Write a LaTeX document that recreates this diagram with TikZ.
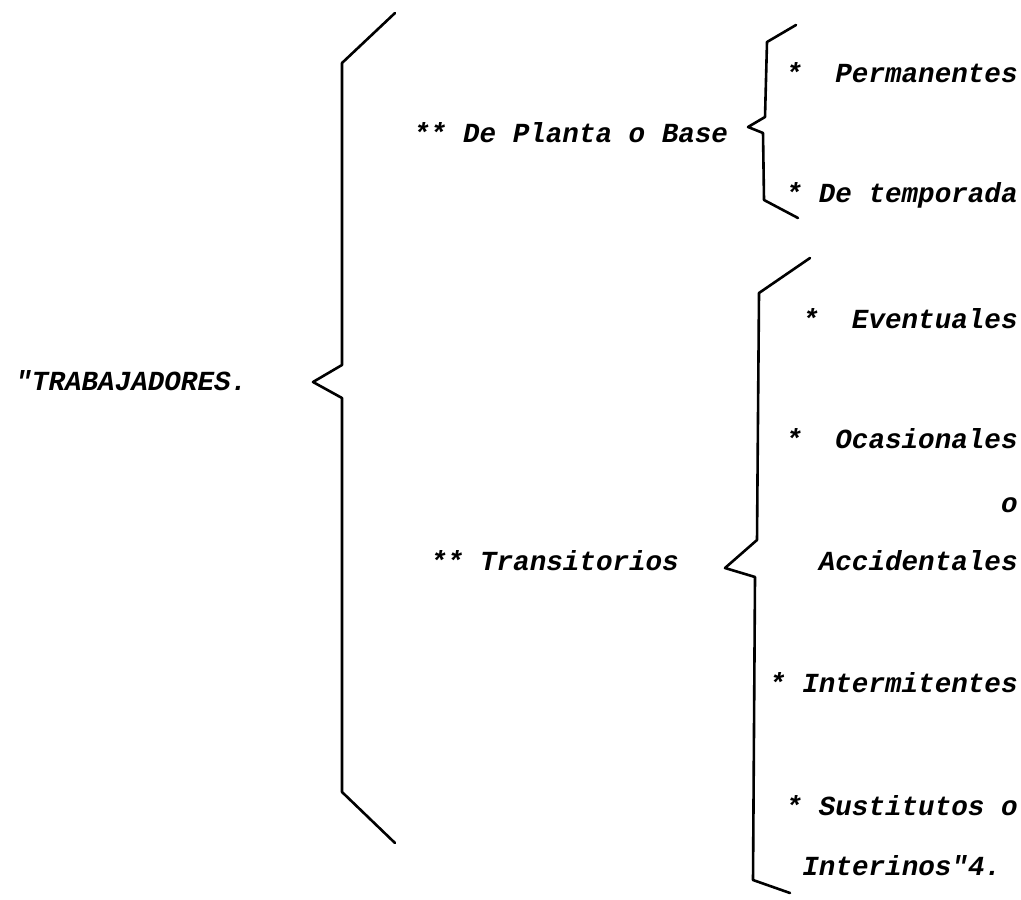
\documentclass[tikz,border=0pt]{standalone}
\usepackage{fontspec}
\setmonofont{Liberation Mono}
\usetikzlibrary{positioning}
\tikzset{
  item/.style  = {font=\fontsize{13.8}{16}\selectfont\ttfamily\bfseries\itshape,
                  inner sep=0pt, anchor=base east},
  head/.style  = {item, anchor=base west},
  brk/.style   = {draw=black, line width=1.3pt, line join=round, line cap=round},
}

\begin{document}
\begin{tikzpicture}[x=0.5pt, y=-0.5pt]
  \useasboundingbox (0,0) rectangle (1021,899);

  %% ---------------- the root ----------------
  \node[head] (root) at (15,390) {"TRABAJADORES.};
  \draw[brk] (395,13) -- (342,63) -- (342,365) -- (313,382)
             -- (342,398) -- (342,792) -- (395,843);

  %% ---------------- de planta ----------------
  \node[head] (planta) at (413,142) {**~De~Planta~o~Base};
  \draw[brk] (796,25) -- (767,42) -- (765,117) -- (748,127)
             -- (763,133) -- (764,200) -- (798,218);
  \node[item] (perm) at (1018,83)  {*~~Permanentes};
  \node[item] (temp) at (1018,202) {*~De~temporada};

  %% ---------------- transitorios ----------------
  \node[head] (trans) at (430,570) {**~Transitorios};
  \draw[brk] (810,258) -- (759,293) -- (757,540) -- (725,568)
             -- (755,577) -- (753,880) -- (790,893);
  \node[item] (even)  at (1018,328) {*~~Eventuales};
  \node[item] (ocas)  at (1018,448) {*~~Ocasionales};
  \node[item] (conj)  at (1018,512) {o};
  \node[item] (acci)  at (1018,570) {Accidentales};
  \node[item] (inter) at (1018,692) {*~Intermitentes};
  \node[item] (sust)  at (1018,815) {*~Sustitutos~o};
  \node[head] (inte)  at (802,875)  {Interinos"4.};

\end{tikzpicture}
\end{document}
